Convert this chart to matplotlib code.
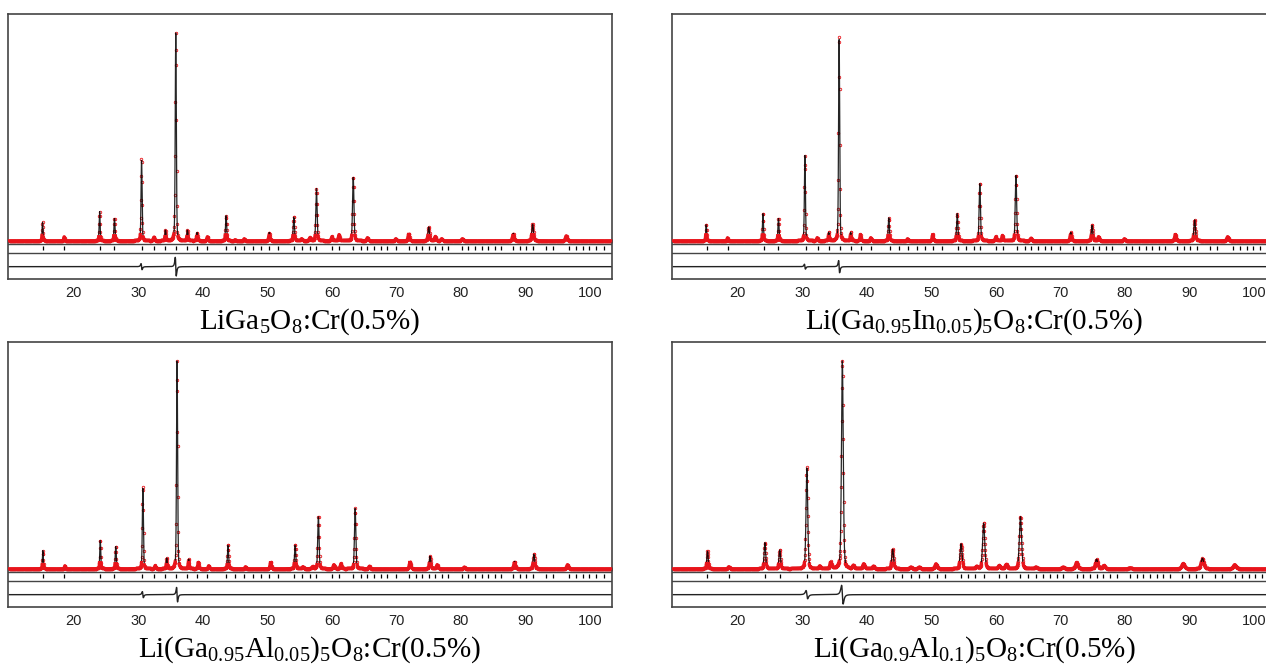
import numpy as np
import matplotlib
matplotlib.use('Agg')
import matplotlib.pyplot as plt

plt.rcParams['mathtext.fontset'] = 'custom'
plt.rcParams['mathtext.rm'] = 'Liberation Serif'
plt.rcParams['mathtext.default'] = 'rm'

# ---- data (2theta in degrees, intensity normalised to the 311 peak) ----
titles = [r'LiGa$_{5}$O$_{8}$:Cr(0.5%)',
          r'Li(Ga$_{0.95}$In$_{0.05}$)$_{5}$O$_{8}$:Cr(0.5%)',
          r'Li(Ga$_{0.95}$Al$_{0.05}$)$_{5}$O$_{8}$:Cr(0.5%)',
          r'Li(Ga$_{0.9}$Al$_{0.1}$)$_{5}$O$_{8}$:Cr(0.5%)']

pos_p1 = [15.15, 18.5, 24.0, 26.3, 30.5, 32.4, 34.2, 35.8, 37.6, 39.1, 40.7, 43.6, 45.0, 46.4,
          50.3, 54.1, 55.3, 56.6, 57.6, 60.0, 61.1, 63.3, 65.5, 69.9, 71.9, 75.0, 76.0, 77.0,
          80.2, 88.1, 91.1, 96.3]
int_p1 = [0.09, 0.02, 0.14, 0.11, 0.40, 0.017, 0.05, 1.0, 0.05, 0.04, 0.02, 0.12, 0.005, 0.01,
          0.04, 0.115, 0.01, 0.015, 0.25, 0.02, 0.03, 0.31, 0.015, 0.01, 0.035, 0.066, 0.02, 0.01,
          0.01, 0.035, 0.08, 0.024]

pos_p2 = [15.1, 18.4, 23.9, 26.3, 30.4, 32.3, 34.1, 35.7, 37.5, 39.0, 40.6, 43.4, 46.3,
          50.2, 54.0, 57.5, 60.0, 61.0, 63.1, 65.4, 71.6, 74.9, 75.9, 79.9, 87.8, 90.8, 95.9]
int_p2 = [0.08, 0.015, 0.135, 0.11, 0.41, 0.015, 0.04, 1.0, 0.04, 0.03, 0.015, 0.11, 0.01,
          0.03, 0.13, 0.28, 0.02, 0.025, 0.32, 0.012, 0.04, 0.075, 0.02, 0.01, 0.03, 0.10, 0.02]

pos_p3 = [15.2, 18.6, 24.1, 26.5, 30.7, 32.6, 34.4, 36.0, 37.8, 39.3, 40.9, 43.9, 46.6,
          50.5, 54.3, 55.5, 57.0, 57.9, 60.3, 61.4, 63.6, 65.8, 72.1, 75.2, 76.3, 80.5,
          88.3, 91.3, 96.5]
int_p3 = [0.087, 0.015, 0.14, 0.11, 0.40, 0.015, 0.05, 1.0, 0.045, 0.035, 0.015, 0.115, 0.01,
          0.035, 0.115, 0.01, 0.01, 0.255, 0.02, 0.025, 0.29, 0.012, 0.035, 0.06, 0.02, 0.008,
          0.035, 0.07, 0.02]

pos_p4 = [15.3, 18.6, 24.2, 26.5, 30.7, 32.7, 34.4, 36.2, 37.9, 39.5, 41.0, 44.0, 46.8, 48.1,
          50.7, 54.6, 57.0, 58.1, 60.5, 61.6, 63.8, 66.2, 70.4, 72.5, 75.6, 76.7, 80.8, 89.0, 92.0, 97.0]
int_p4 = [0.085, 0.01, 0.125, 0.09, 0.49, 0.013, 0.032, 1.0, 0.015, 0.024, 0.012, 0.093, 0.008, 0.008,
          0.024, 0.12, 0.01, 0.22, 0.015, 0.02, 0.25, 0.008, 0.008, 0.03, 0.045, 0.015, 0.005, 0.025,
          0.05, 0.02]

# Bragg reflection markers
bragg_a = [15.15, 18.5, 24.0, 26.3, 30.5, 32.4, 34.2, 35.8, 37.6, 39.1, 40.7, 43.6, 45.0, 46.4,
           47.7, 49.0, 50.3, 51.6, 54.1, 55.3, 56.6, 57.6, 60.0, 61.1, 63.3, 64.5, 65.5, 66.5,
           67.6, 68.6, 69.9, 71.9, 73.0, 74.0, 75.0, 76.0, 77.0, 78.0, 80.2, 81.1, 82.2, 83.2,
           84.2, 85.2, 86.2, 88.1, 89.1, 90.1, 91.1, 93.2, 94.2, 96.8, 97.8, 98.9, 99.9, 100.9, 102.2]
bragg_b = [15.3, 18.6, 24.2, 26.5, 30.7, 32.7, 34.4, 36.2, 37.8, 39.4, 41.0, 44.0, 45.4, 46.8,
           48.1, 49.6, 50.8, 52.1, 54.6, 55.7, 56.7, 58.1, 60.5, 61.6, 63.8, 65.0, 66.2, 67.3,
           68.3, 69.4, 70.4, 72.5, 73.5, 74.6, 75.6, 76.6, 77.7, 78.7, 80.8, 81.8, 82.8, 83.9,
           84.9, 85.9, 87.0, 88.9, 89.9, 91.0, 92.0, 94.0, 95.0, 97.1, 98.2, 99.2, 100.2, 101.2]

# residual wiggles (position, amplitude) at the strongest reflections
resid_p1 = [(30.5, 0.015), (35.8, 0.045)]
resid_p2 = [(30.4, 0.012), (35.7, 0.03)]
resid_p3 = [(30.7, 0.015), (36.0, 0.035)]
resid_p4 = [(30.7, 0.02), (36.2, 0.045)]

fwhm = [0.16, 0.16, 0.16, 0.26]

panels = [(pos_p1, int_p1, bragg_a, resid_p1),
          (pos_p2, int_p2, bragg_a, resid_p2),
          (pos_p3, int_p3, bragg_a, resid_p3),
          (pos_p4, int_p4, bragg_b, resid_p4)]

W, H = 1266, 666
fig = plt.figure(figsize=(W / 100, H / 100), dpi=100)
boxes = [(8, 14), (672, 14), (8, 342), (672, 342)]   # left, top in px
bw, bh = 604, 265
title_y = [322, 322, 650, 650]

tth = np.arange(10.0, 103.5, 0.04)


def pv(x, x0, w, eta=0.3):
    g = np.exp(-4 * np.log(2) * ((x - x0) / w) ** 2)
    l = 1 / (1 + 4 * ((x - x0) / w) ** 2)
    return eta * l + (1 - eta) * g


for i, (pos, inten, bragg, resid) in enumerate(panels):
    left, top = boxes[i]
    ax = fig.add_axes([left / W, 1 - (top + bh) / H, bw / W, bh / H])

    calc = np.zeros_like(tth)
    for p, h in zip(pos, inten):
        w = fwhm[i] * (1 + (p - 15) / 90)
        calc += h * pv(tth, p, w)
    diff = np.zeros_like(tth)
    for p, a in resid:
        u = (tth - p) / (fwhm[i] * 0.8)
        diff += a * (-2 * u / (1 + u ** 2) ** 2) / 0.6495
    obs = calc + diff

    ax.plot(tth, obs, 'o', ms=1.8, mfc='none', mec='#e8141b', mew=0.6, zorder=2)
    ax.plot(tth, calc, color='black', lw=0.9, zorder=3, alpha=0.85)
    # the baseline is overlaid with observed points only
    base = np.ma.masked_where(calc > 0.03, obs)
    ax.plot(tth, base, color='#e8141b', lw=2.2, zorder=4)

    ax.axhline(-0.016, color='#444444', lw=1.0)
    ax.axhline(-0.059, color='#444444', lw=1.0)
    ax.vlines(bragg, -0.047, -0.026, color='black', lw=0.9)
    ax.plot(tth, -0.125 + diff, color='#222222', lw=1.0)

    ax.set_xlim(9.8, 103.4)
    ax.set_ylim(-0.1844, 1.0915)
    ax.set_yticks([])
    ax.set_xticks([20, 30, 40, 50, 60, 70, 80, 90, 100])
    ax.tick_params(axis='x', length=0, pad=5, labelsize=10.5, labelcolor='#222222')
    for lab in ax.get_xticklabels():
        lab.set_fontfamily('Liberation Sans')
    for sp in ax.spines.values():
        sp.set_color('#444444')
        sp.set_linewidth(1.2)

    fig.text((left + bw / 2) / W, 1 - title_y[i] / H, titles[i], ha='center', va='center',
             fontsize=21, family='Liberation Serif')

fig.savefig('out.png', dpi=100)
